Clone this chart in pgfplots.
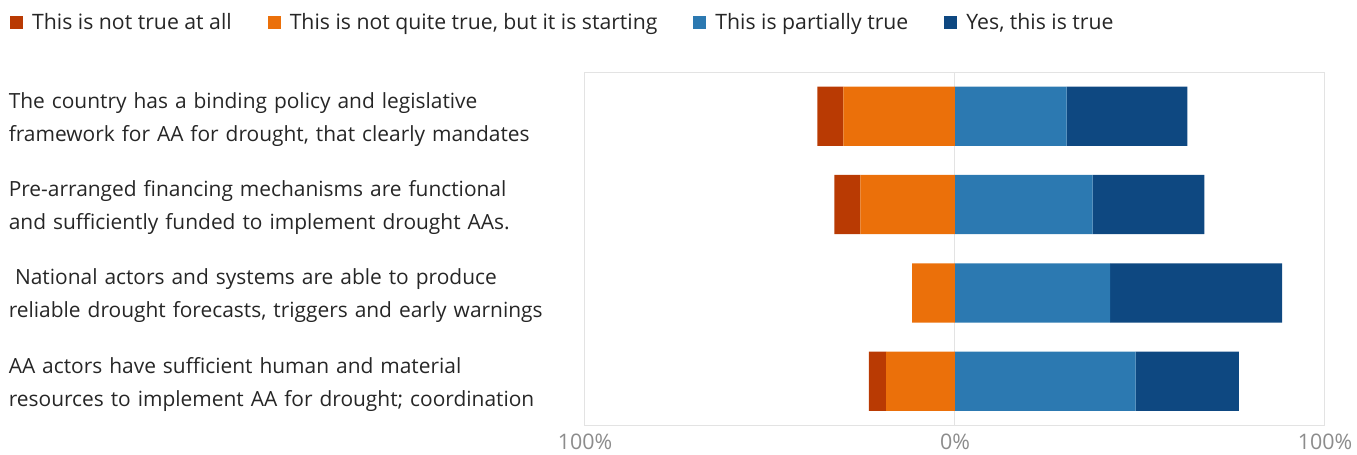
\documentclass[border=0pt]{standalone}
\usepackage{pgfplots}
\pgfplotsset{compat=1.18}
\usepackage{fontspec}
\setmainfont{Open Sans}
\definecolor{c1}{HTML}{B93A03}
\definecolor{c2}{HTML}{EB700A}
\definecolor{c3}{HTML}{2C79B1}
\definecolor{c4}{HTML}{0E4881}
\definecolor{txt}{HTML}{262626}
\definecolor{lgray}{HTML}{E3E3E3}
\begin{document}
\begin{tikzpicture}
\begin{axis}[name=ax, scale only axis, width=740bp, height=353.5bp,
  xmin=-100, xmax=100, ymin=-0.5, ymax=3.5, y dir=reverse,
  xbar stacked, stack negative=separate, bar width=0.67,
  xtick={-100,0,100}, xticklabels={100\%,0\%,100\%},
  ytick={0,1,2,3},
  yticklabels={{The country has a binding policy and legislative\\framework for AA for drought, that clearly mandates},
    {Pre-arranged financing mechanisms are functional\\and sufficiently funded to implement drought AAs.},
    {\hspace{0.3em}National actors and systems are able to produce\\reliable drought forecasts, triggers and early warnings},
    {AA actors have sufficient human and material\\resources to implement AA for drought; coordination}},
  yticklabel style={anchor=east, text width=566bp, align=left, inner sep=0pt, xshift=-10bp, yshift=-3bp,
    font=\fontsize{21}{33}\selectfont, text=txt},
  xticklabel style={font=\fontsize{21.5}{24}\selectfont, text=gray!90, yshift=-5bp},
  major tick length=0, axis line style={lgray, line width=1bp},
  xmajorgrids, grid style={lgray, line width=1bp},
  legend columns=4,
  legend style={at={(axis description cs:-0.777,1.141)}, anchor=west, draw=none,
    font=\fontsize{21.3}{24}\selectfont, text=txt, inner sep=0pt,
    /tikz/every even column/.append style={column sep=35bp},
    /tikz/every odd column/.append style={column sep=8bp},
    nodes={inner sep=1bp}},
  legend image code/.code={\fill[#1] (0bp,-6.5bp) rectangle (13bp,6.5bp);},
]
\addlegendimage{fill=c1, draw=none}
\addlegendentry{This is not true at all}
\addlegendimage{fill=c2, draw=none}
\addlegendentry{This is not quite true, but it is starting}
\addlegendimage{fill=c3, draw=none}
\addlegendentry{This is partially true}
\addlegendimage{fill=c4, draw=none}
\addlegendentry{Yes, this is true}
% not quite true (negative)
\addplot[fill=c2, draw=none, forget plot] coordinates {(-30.2,0) (-25.6,1) (-11.6,2) (-18.6,3)};
% not true at all (negative)
\addplot[fill=c1, draw=none, forget plot] coordinates {(-7.0,0) (-7.0,1) (0,2) (-4.7,3)};
% partially true
\addplot[fill=c3, draw=none, forget plot] coordinates {(30.2,0) (37.2,1) (41.9,2) (48.8,3)};
% yes
\addplot[fill=c4, draw=none, forget plot] coordinates {(32.6,0) (30.2,1) (46.5,2) (27.9,3)};
\end{axis}
\useasboundingbox ([xshift=-585bp,yshift=-29.5bp]ax.south west) rectangle ([xshift=32bp,yshift=72bp]ax.north east);
\end{tikzpicture}
\end{document}
